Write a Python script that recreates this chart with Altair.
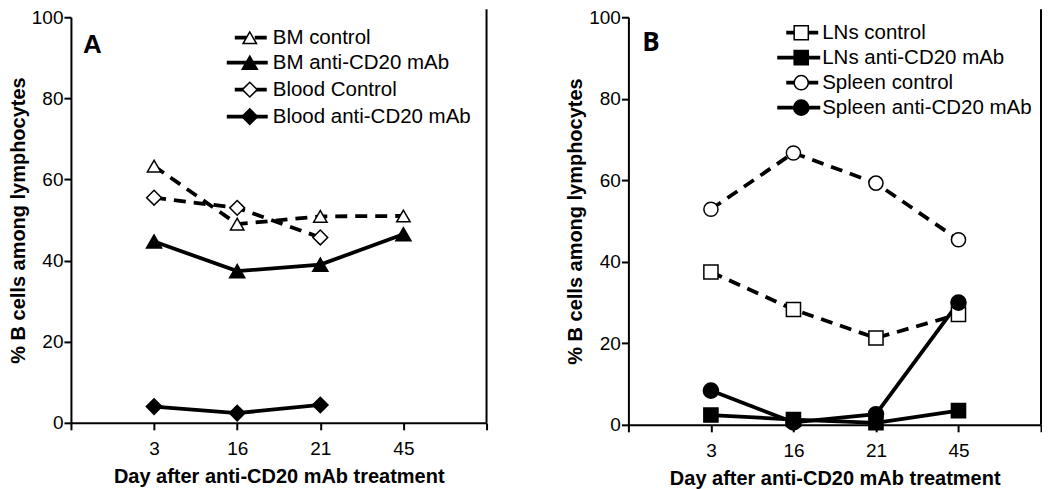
import altair as alt
import pandas as pd

# ---------------- data ----------------
days = ["3", "16", "21", "45"]
y_ticks = [0, 20, 40, 60, 80, 100]

a_names = ["BM control", "BM anti-CD20 mAb", "Blood Control", "Blood anti-CD20 mAb"]
bm_control = [63.3, 49.0, 50.9, 51.0]
bm_anti = [44.7, 37.4, 39.0, 46.5]
blood_control = [55.5, 53.0, 45.7]
blood_anti = [4.0, 2.4, 4.4]

b_names = ["LNs control", "LNs anti-CD20 mAb", "Spleen control", "Spleen anti-CD20 mAb"]
lns_control = [37.5, 28.3, 21.3, 27.1]
lns_anti = [2.4, 1.3, 0.5, 3.5]
spleen_control = [52.9, 66.7, 59.3, 45.4]
spleen_anti = [8.4, 0.6, 2.6, 30.0]

# ---------------- styles ----------------
FONT = "Liberation Sans"
LW = 3.8
DASH = [12, 8]
# (shape, fill, dashed, size)
a_styles = [("triangle-up", "white", True, 180),
            ("triangle-up", "black", False, 230),
            ("diamond", "white", True, 220),
            ("diamond", "black", False, 240)]
b_styles = [("square", "white", True, 200),
            ("square", "black", False, 200),
            ("circle", "white", True, 200),
            ("circle", "black", False, 230)]

label_expr = "[''," + ",".join("'%s'" % d for d in days) + ",''][datum.value]"


def x_enc():
    return alt.X("pos:Q", scale=alt.Scale(domain=[0, len(days) + 1], nice=False),
                 axis=alt.Axis(values=list(range(len(days) + 2)), labelExpr=label_expr,
                               title="Day after anti-CD20 mAb treatment"))


def y_enc():
    return alt.Y("val:Q", scale=alt.Scale(domain=[0, 100], nice=False),
                 axis=alt.Axis(values=y_ticks, title="% B cells among lymphocytes"))


def panel(names, series, styles, width, height, letter, letter_font, letter_xy,
          leg_rows, leg_solid, leg_dash, leg_sym, leg_text):
    layers = []
    for name, vals, (shape, fill, dashed, size) in zip(names, series, styles):
        df = pd.DataFrame({"pos": list(range(1, len(vals) + 1)), "val": vals, "series": name})
        line_kw = dict(color="black", strokeWidth=LW)
        if dashed:
            line_kw["strokeDash"] = DASH
        layers.append(alt.Chart(df).mark_line(**line_kw).encode(x=x_enc(), y=y_enc()))
    for name, vals, (shape, fill, dashed, size) in zip(names, series, styles):
        df = pd.DataFrame({"pos": list(range(1, len(vals) + 1)), "val": vals, "series": name})
        layers.append(alt.Chart(df).mark_point(shape=shape, filled=True, fill=fill, stroke="black",
                                               strokeWidth=1.5, size=size, opacity=1)
                      .encode(x=x_enc(), y=y_enc()))
    # right frame line
    layers.append(alt.Chart(pd.DataFrame({"pos": [len(days) + 1]})).mark_rule(color="black", strokeWidth=2)
                  .encode(x=alt.X("pos:Q"), y=alt.value(-8), y2=alt.value(height)))
    # panel letter
    layers.append(alt.Chart(pd.DataFrame({"t": [letter]})).mark_text(
        font=letter_font, fontWeight="bold", fontSize=26, color="black", align="center", baseline="middle")
        .encode(text="t:N", x=alt.value(letter_xy[0]), y=alt.value(letter_xy[1])))
    # legend
    for i, (name, (shape, fill, dashed, size)) in enumerate(zip(names, styles)):
        yy = leg_rows[i]
        x0, x1 = leg_dash if dashed else leg_solid
        rk = dict(color="black", strokeWidth=LW)
        if dashed:
            rk["strokeDash"] = DASH
        ldf = pd.DataFrame({"label": [name]})
        layers.append(alt.Chart(ldf).mark_rule(**rk)
                      .encode(x=alt.value(x0), x2=alt.value(x1), y=alt.value(yy)))
        layers.append(alt.Chart(ldf).mark_point(shape=shape, filled=True, fill=fill, stroke="black",
                                                strokeWidth=1.5, size=size, opacity=1)
                      .encode(x=alt.value(leg_sym), y=alt.value(yy)))
        layers.append(alt.Chart(ldf).mark_text(font=FONT, fontSize=20.5, color="black", align="left",
                                               baseline="middle")
                      .encode(text="label:N", x=alt.value(leg_text), y=alt.value(yy)))
    return alt.layer(*layers).properties(width=width, height=height)


TOP = 17.5
pa = panel(a_names, [bm_control, bm_anti, blood_control, blood_anti], a_styles, 416, 406,
           "A", FONT, (21.5, 45 - TOP),
           [38 - TOP, 63 - TOP, 90 - TOP, 117 - TOP], (156, 197), (164, 197), 179, 202)
pb = panel(b_names, [lns_control, lns_anti, spleen_control, spleen_anti], b_styles, 413, 408,
           "B", "Open Sans", (22.5, 43.5 - TOP),
           [33 - TOP, 58 - TOP, 83 - TOP, 108 - TOP], (149, 192), (158, 190), 173, 194)

chart = (alt.hconcat(pa, pb, spacing=78)
         .properties(padding={"left": 0, "top": 0, "right": 0, "bottom": 0}, background="white")
         .configure_view(stroke=None)
         .configure_axis(grid=False, domainColor="black", domainWidth=2, tickColor="black", tickWidth=2,
                         tickSize=7, labelFont=FONT, labelFontSize=19, labelColor="black",
                         titleFont=FONT, titleFontSize=20, titleFontWeight="bold", titleColor="black")
         .configure_axisX(labelPadding=10, titlePadding=8)
         .configure_axisY(labelPadding=1, titlePadding=3))

chart.save("out.html", embed_options={"renderer": "svg", "actions": False})
